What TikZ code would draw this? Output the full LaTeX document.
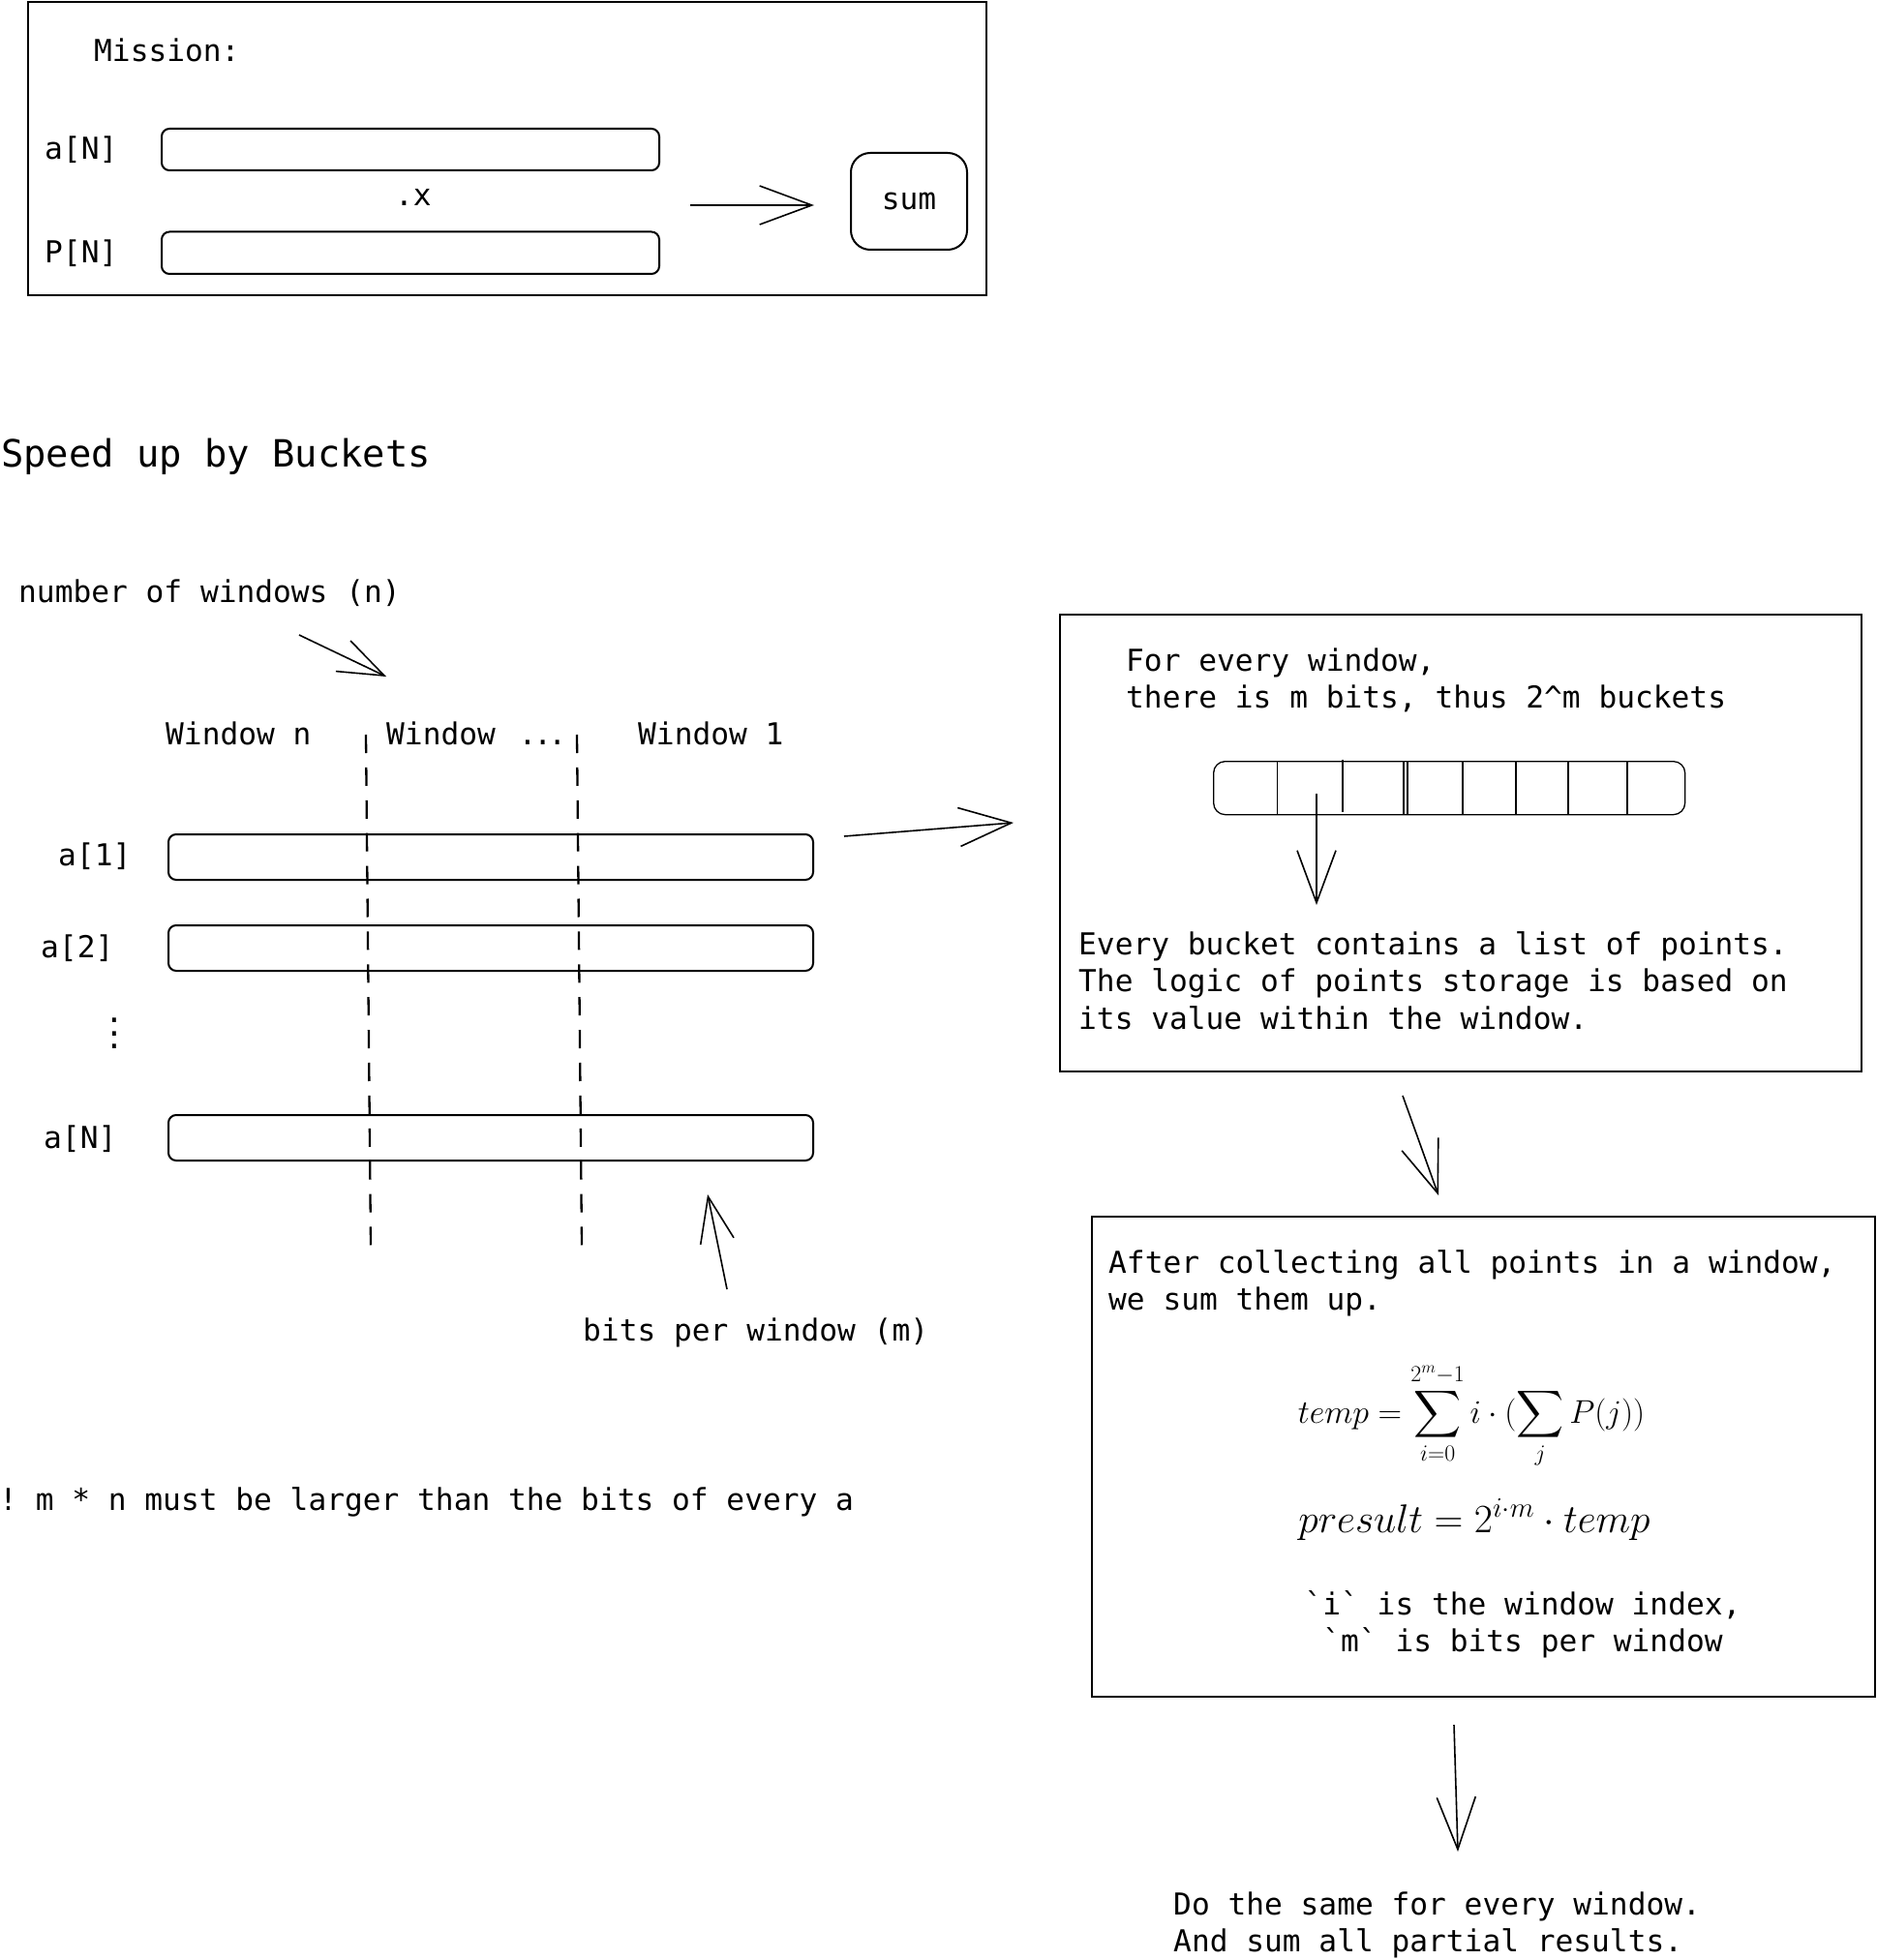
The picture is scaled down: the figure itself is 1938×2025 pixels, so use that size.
\RequirePackage{fix-cm}
\documentclass[tikz,border=0pt]{standalone}
\usepackage{exscale}
\usepackage{fontspec}
\setmonofont{DejaVu Sans Mono}
\usetikzlibrary{arrows.meta}
\DeclareFontFamily{OMX}{cmex}{}
\DeclareFontShape{OMX}{cmex}{m}{n}{<-> cmex10}{}
\newcommand\mlines[1]{\begin{tabular}[t]{@{}l@{}}#1\end{tabular}}
\newcommand\mcentered[1]{\begin{tabular}[t]{@{}c@{}}#1\end{tabular}}
\tikzset{
  box/.style={draw, line width=2pt, rectangle, inner sep=0pt, anchor=north west},
  rbox/.style={draw, line width=2pt, rectangle, rounded corners=8pt, inner sep=0pt, anchor=north west},
  txt/.style={font=\ttfamily\fontsize{31.2}{38.8}\selectfont, inner sep=0pt, anchor=base west},
  conn/.style={line width=1.6pt, -{Straight Barb[length=54pt,width=40pt]}},
  connsm/.style={line width=1.6pt, -{Straight Barb[length=47pt,width=35pt]}},
  winsep/.style={line width=2.3pt, dash pattern=on 19pt off 14.9pt},
  divider/.style={line width=1.3pt},
}
\begin{document}
\begin{tikzpicture}[x=1pt,y=-1pt]
\useasboundingbox (0,0) rectangle (1938,2025);

% ---------- Mission ----------
\node[box, minimum width=990pt, minimum height=302.5pt] (mission) at (28,1.5) {};
\node[txt] (missionlbl) at (97,64) {Mission:};
\node[txt] (aNlbl) at (46,165) {a[N]};
\node[txt] (PNlbl) at (46,272) {P[N]};
\node[rbox, minimum width=514pt, minimum height=43pt] (arow) at (166,132) {};
\node[rbox, minimum width=514pt, minimum height=43.5pt] (prow) at (166,238.5) {};
\node[txt] (dotx) at (408,213) {.x};
\node[rbox, rounded corners=20pt, minimum width=120pt, minimum height=100pt, font=\ttfamily\fontsize{31.2}{38.8}\selectfont] (sum) at (878,157) {sum};
\coordinate (ms) at (713,212);
\coordinate (me) at (841,212);
\draw[conn] (ms) -- (me);

% ---------- Speed up ----------
\node[txt, font=\ttfamily\fontsize{38.8}{46}\selectfont] (title) at (1,482) {Speed up by Buckets};
\node[txt] (nwin) at (19,622) {number of windows (n)};
\coordinate (nA) at (309,656);
\coordinate (nB) at (399,699);
\draw[connsm] (nA) -- (nB);

\node[txt] (wn) at (171,769) {Window n};
\node[txt] (wdots) at (399,769) {Window \kern5pt.\kern-3pt.\kern-4pt.};
\node[txt] (w1) at (659,769) {Window 1};

\node[txt] (a1lbl) at (60,894) {a[1]};
\node[txt] (a2lbl) at (42,989) {a[2]};
\node[font=\ttfamily\fontsize{31.2}{13.6}\selectfont, align=center, inner sep=0pt] (vd) at (118,1068) {.\\.\\.};
\node[txt] (aNlbl2) at (45,1186) {a[N]};

\node[rbox, minimum width=666pt, minimum height=47pt] (r1) at (173,861) {};
\node[rbox, minimum width=666pt, minimum height=47pt] (r2) at (173,955) {};
\node[rbox, minimum width=666pt, minimum height=47pt] (rN) at (173,1151) {};

\coordinate (d1t) at (378,759);
\coordinate (d1b) at (383,1287);
\coordinate (d2t) at (596,759);
\coordinate (d2b) at (601,1287);
\draw[winsep] (d1t) -- (d1b);
\draw[winsep] (d2t) -- (d2b);

\coordinate (mA) at (751,1332);
\coordinate (mB) at (731,1234);
\draw[connsm] (mA) -- (mB);
\node[txt] (bpw) at (602,1385) {bits per window (m)};

\node[txt] (warn) at (-1,1560) {! m * n must be larger than the bits of every a};

\coordinate (rA) at (872,864);
\coordinate (rB) at (1047,850);
\draw[conn] (rA) -- (rB);

% ---------- bucket box ----------
\node[box, minimum width=828pt, minimum height=472pt] (wbox) at (1094,634) {};
\node[txt] (wtxt) at (1163,693) {\mlines{For every window,\\there is m bits, thus 2\textasciicircum m buckets}};
\node[rbox, line width=1.3pt, rounded corners=12pt, minimum width=487pt, minimum height=55pt] (bar) at (1253,786) {};
\foreach \x in {1319.5,1450,1454,1511,1566,1620,1681}
  \draw[divider] (\x,787) -- (\x,841);
\draw[divider] (1387,784.5) -- (1387,839);
\coordinate (bA) at (1360,820);
\coordinate (bB) at (1360,935);
\draw[conn] (bA) -- (bB);
\node[txt] (btxt) at (1114,986) {\mlines{Every bucket contains a list of points.\\The logic of points storage is based on\\its value within the window.}};

\coordinate (cA) at (1449,1132);
\coordinate (cB) at (1486,1235);
\draw[conn] (cA) -- (cB);

% ---------- sum box ----------
\node[box, minimum width=809pt, minimum height=496pt] (sbox) at (1127,1256) {};
\node[txt] (stxt) at (1145,1315) {\mlines{After collecting all points in a window,\\we sum them up.}};
\node[inner sep=0pt, anchor=base, font=\fontsize{34}{40}\selectfont] (f1) at (1520,1470)
  {$\displaystyle temp = \sum_{i=0}^{2^m-1} i\cdot(\sum_j P(j))$};
\node[inner sep=0pt, anchor=base, font=\fontsize{41.5}{48}\selectfont] (f2) at (1523,1583)
  {$presult = 2^{i\cdot m}\cdot temp$};
\node[txt, anchor=base] (itxt) at (1573,1668) {\mcentered{`i` is the window index,\\`m` is bits per window}};

\coordinate (eA) at (1502,1782);
\coordinate (eB) at (1506,1913);
\draw[conn] (eA) -- (eB);
\node[txt] (dtxt) at (1212,1978) {\mlines{Do the same for every window.\\And sum all partial results.}};
\end{tikzpicture}
\end{document}
